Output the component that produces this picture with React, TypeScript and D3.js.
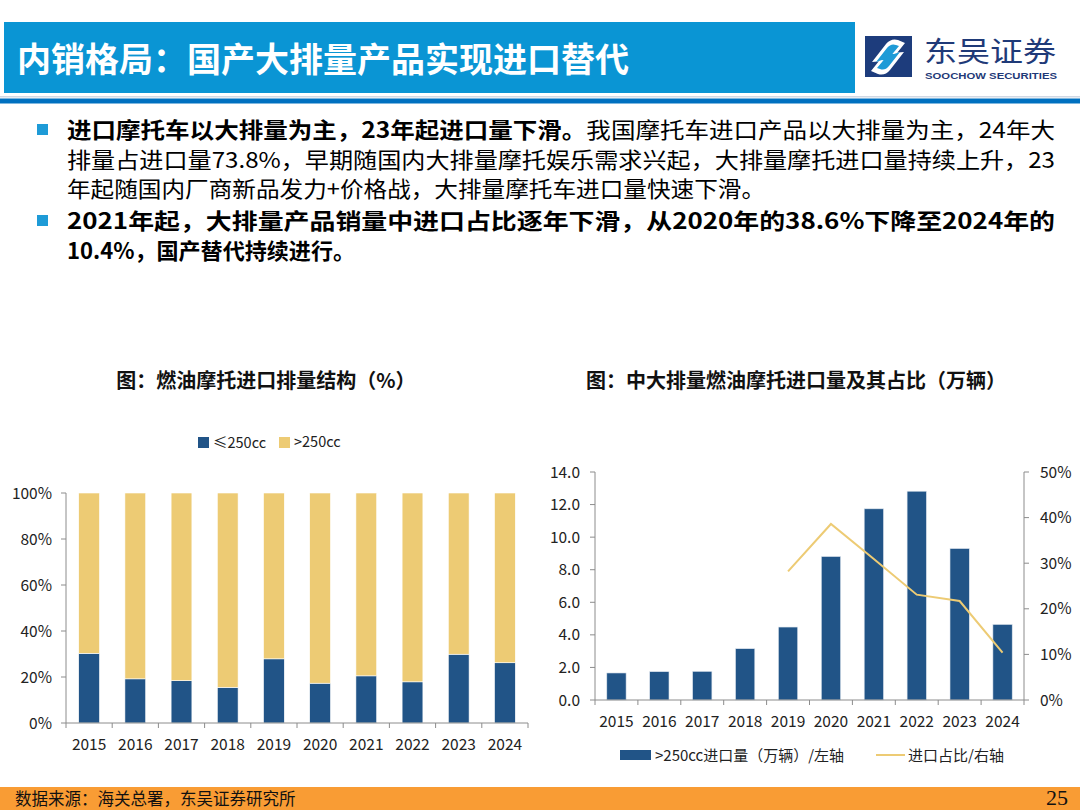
import React from 'react';
import * as d3 from 'd3';

const years = ['2015', '2016', '2017', '2018', '2019', '2020', '2021', '2022', '2023', '2024'];
const shareSmall = [30.3, 19.2, 18.4, 15.5, 27.9, 17.3, 20.5, 17.9, 29.9, 26.2];
const shareLarge = [69.7, 80.8, 81.6, 84.5, 72.1, 82.7, 79.5, 82.1, 70.1, 73.8];
const leftTicks = [0, 20, 40, 60, 80, 100];

const importVol = [1.66, 1.74, 1.76, 3.15, 4.48, 8.81, 11.74, 12.82, 9.3, 4.64];
const lineYears = ['2019', '2020', '2021', '2022', '2023', '2024'];
const lineShare = [28.2, 38.6, 30.9, 23.1, 21.7, 10.4];
const volTicks = [0, 2, 4, 6, 8, 10, 12, 14];
const pctTicks = [0, 10, 20, 30, 40, 50];

const seriesNames = ['≤250cc', '>250cc'];
const rightLegend = ['>250cc进口量（万辆）/左轴', '进口占比/右轴'];

const BLUE = '#215487';
const YELLOW = '#EDCB74';
const AXIS = '#8c8c8c';
const FONT = '"Noto Sans CJK SC", "Noto Sans", sans-serif';
const TICK = 15.5;

export default function App() {
  // left chart
  const lx = d3.scaleBand<string>().domain(years).range([66, 528]).paddingInner(0.55).paddingOuter(0.275);
  const lxOuter = d3.scaleBand<string>().domain(years).range([66, 528]);
  const ly = d3.scaleLinear().domain([0, 100]).range([723, 493]);
  const stackData = years.map((y, i) => ({ year: y, small: shareSmall[i], large: shareLarge[i] }));
  const stacked = d3.stack<any>().keys(['small', 'large'])(stackData);
  const colors = [BLUE, YELLOW];

  // right chart
  const rx = d3.scaleBand<string>().domain(years).range([595, 1024]).paddingInner(0.55).paddingOuter(0.275);
  const rxOuter = d3.scaleBand<string>().domain(years).range([595, 1024]);
  const ry = d3.scaleLinear().domain([0, 14]).range([700, 472]);
  const ry2 = d3.scaleLinear().domain([0, 50]).range([700, 472]);
  const linePath = d3
    .line<number>()
    .x((_, i) => (rx(lineYears[i]) as number) + rx.bandwidth() / 2)
    .y((d) => ry2(d))(lineShare);

  const by = [138, 168, 197, 229, 259];
  const BF = 22;

  return (
    <svg width={1080} height={810} style={{ position: 'absolute', left: 0, top: 0, fontFamily: FONT }}>
      <rect x={0} y={0} width={1080} height={810} fill="#fff" />
      {/* header */}
      <rect x={4} y={22} width={851} height={71} fill="#0A95D4" />
      <text x={17} y={72} fontSize={34} fontWeight="bold" fill="#fff">
        内销格局：国产大排量产品实现进口替代
      </text>
      <rect x={0} y={96} width={1080} height={1.5} fill="#d0d8e4" />
      <rect x={0} y={98.5} width={1080} height={5} fill="#0070C0" />
      {/* logo */}
      <g>
        <rect x={865} y={36} width={47} height={41} fill="#1D3C7C" />
        <path d="M 872 62 L 886 44 Q 891 38 898 40 L 905 43 L 893 58 Q 889 63 884 61 Z" fill="#fff" />
        <path d="M 904 52 L 890 70 Q 885 76 878 74 L 871 71 L 883 56 Q 887 51 892 53 Z" fill="#fff" />
        <path d="M 876 62 L 887 48 Q 891 43 896 45 L 899 46 L 889 58 Q 886 61 882 60 Z" fill="#1E9BD7" />
        <path d="M 900 52 L 889 66 Q 885 71 880 69 L 877 68 L 887 56 Q 890 53 894 54 Z" fill="#1E9BD7" />
        <text x={924} y={62} fontSize={28} fill="#1F3A78" textLength={132} lengthAdjust="spacingAndGlyphs">东吴证券</text>
        <text
          x={925}
          y={79}
          fontSize={9.5}
          fontWeight="bold"
          fill="#1F3A78"
          fontFamily='"Liberation Sans", sans-serif'
          textLength={132}
          lengthAdjust="spacingAndGlyphs"
        >
          SOOCHOW SECURITIES
        </text>
      </g>

      {/* body */}
      <rect x={37} y={124} width={11} height={11} fill="#1E9BD7" />
      <rect x={37} y={215} width={11} height={11} fill="#1E9BD7" />
      <text x={67} y={by[0]} fontSize={BF} fill="#000" textLength={988} lengthAdjust="spacingAndGlyphs">
        <tspan fontWeight="bold">进口摩托车以大排量为主，23年起进口量下滑。</tspan>
        <tspan>我国摩托车进口产品以大排量为主，24年大</tspan>
      </text>
      <text x={67} y={by[1]} fontSize={BF} fill="#000" textLength={988} lengthAdjust="spacingAndGlyphs">
        排量占进口量73.8%，早期随国内大排量摩托娱乐需求兴起，大排量摩托进口量持续上升，23
      </text>
      <text x={67} y={by[2]} fontSize={BF} fill="#000" textLength={698} lengthAdjust="spacingAndGlyphs">
        年起随国内厂商新品发力+价格战，大排量摩托车进口量快速下滑。
      </text>
      <text x={67} y={by[3]} fontSize={BF} fontWeight="bold" fill="#000" textLength={988} lengthAdjust="spacingAndGlyphs">
        2021年起，大排量产品销量中进口占比逐年下滑，从2020年的38.6%下降至2024年的
      </text>
      <text x={67} y={by[4]} fontSize={BF} fontWeight="bold" fill="#000" textLength={288} lengthAdjust="spacingAndGlyphs">
        10.4%，国产替代持续进行。
      </text>

      {/* chart titles */}
      <text x={266} y={388} fontSize={20} fontWeight="bold" textAnchor="middle" fill="#111">
        图：燃油摩托进口排量结构（%）
      </text>
      <text x={796} y={388} fontSize={20} fontWeight="bold" textAnchor="middle" fill="#111">
        图：中大排量燃油摩托进口量及其占比（万辆）
      </text>

      {/* left legend */}
      <g fontSize={14.5} fill="#222">
        <rect x={198} y={437} width={11} height={11} fill={BLUE} />
        <text x={213} y={448}>{seriesNames[0]}</text>
        <rect x={279} y={437} width={11} height={11} fill={YELLOW} />
        <text x={294} y={447}>{seriesNames[1]}</text>
      </g>

      {/* left chart bars */}
      {stacked.map((s, si) =>
        s.map((d, i) => (
          <rect
            key={`l${si}-${i}`}
            x={lx(years[i])}
            y={ly(d[1])}
            width={lx.bandwidth()}
            height={ly(d[0]) - ly(d[1])}
            fill={colors[si]}
            stroke="#fff"
            strokeWidth={0.6}
          />
        ))
      )}
      {/* left axes */}
      <line x1={66} x2={66} y1={493} y2={723} stroke={AXIS} strokeWidth={1} />
      {leftTicks.map((t) => (
        <g key={`lt${t}`}>
          <line x1={61} x2={66} y1={ly(t)} y2={ly(t)} stroke={AXIS} />
          <text x={52} y={ly(t) + 5.5} fontSize={TICK} textAnchor="end" fill="#222">
            {t}%
          </text>
        </g>
      ))}
      <line x1={66} x2={528} y1={723} y2={723} stroke={AXIS} strokeWidth={1} />
      {years.map((y) => (
        <line key={`lxt${y}`} x1={lxOuter(y) as number} x2={lxOuter(y) as number} y1={723} y2={728} stroke={AXIS} />
      ))}
      <line x1={528} x2={528} y1={723} y2={728} stroke={AXIS} />
      {years.map((y) => (
        <text key={`lxl${y}`} x={(lxOuter(y) as number) + lxOuter.bandwidth() / 2} y={750} fontSize={TICK} textAnchor="middle" fill="#222">
          {y}
        </text>
      ))}

      {/* right chart bars */}
      {importVol.map((v, i) => (
        <rect
          key={`r${i}`}
          x={rx(years[i])}
          y={ry(v)}
          width={rx.bandwidth()}
          height={ry(0) - ry(v)}
          fill={BLUE}
          stroke="#dfe6ee"
          strokeWidth={0.6}
        />
      ))}
      <path d={linePath || ''} fill="none" stroke={YELLOW} strokeWidth={2} />
      {/* right axes */}
      <line x1={595} x2={595} y1={472} y2={700} stroke={AXIS} />
      {volTicks.map((t) => (
        <g key={`rt${t}`}>
          <line x1={590} x2={595} y1={ry(t)} y2={ry(t)} stroke={AXIS} />
          <text x={580} y={ry(t) + 5.5} fontSize={TICK} textAnchor="end" fill="#222">
            {t.toFixed(1)}
          </text>
        </g>
      ))}
      <line x1={1024} x2={1024} y1={472} y2={700} stroke={AXIS} />
      {pctTicks.map((t) => (
        <g key={`rt2${t}`}>
          <line x1={1024} x2={1029} y1={ry2(t)} y2={ry2(t)} stroke={AXIS} />
          <text x={1040} y={ry2(t) + 5.5} fontSize={TICK} textAnchor="start" fill="#222">
            {t}%
          </text>
        </g>
      ))}
      <line x1={595} x2={1024} y1={700} y2={700} stroke={AXIS} />
      {years.map((y) => (
        <line key={`rxt${y}`} x1={rxOuter(y) as number} x2={rxOuter(y) as number} y1={700} y2={705} stroke={AXIS} />
      ))}
      <line x1={1024} x2={1024} y1={700} y2={705} stroke={AXIS} />
      {years.map((y) => (
        <text key={`rxl${y}`} x={(rxOuter(y) as number) + rxOuter.bandwidth() / 2} y={727} fontSize={TICK} textAnchor="middle" fill="#222">
          {y}
        </text>
      ))}
      {/* right legend */}
      <rect x={620} y={750} width={31} height={10} fill={BLUE} />
      <text x={655} y={761} fontSize={15} fill="#222">{rightLegend[0]}</text>
      <line x1={876} x2={905} y1={755} y2={755} stroke={YELLOW} strokeWidth={2} />
      <text x={908} y={761} fontSize={15} fill="#222">{rightLegend[1]}</text>

      {/* footer */}
      <rect x={0} y={787} width={1080} height={23} fill="#F99C34" />
      <text x={15} y={805} fontSize={16.5} fill="#111">数据来源：海关总署，东吴证券研究所</text>
      <text x={1068} y={805} fontSize={22} textAnchor="end" fill="#111" fontFamily='"Liberation Serif", serif'>
        25
      </text>
    </svg>
  );
}
